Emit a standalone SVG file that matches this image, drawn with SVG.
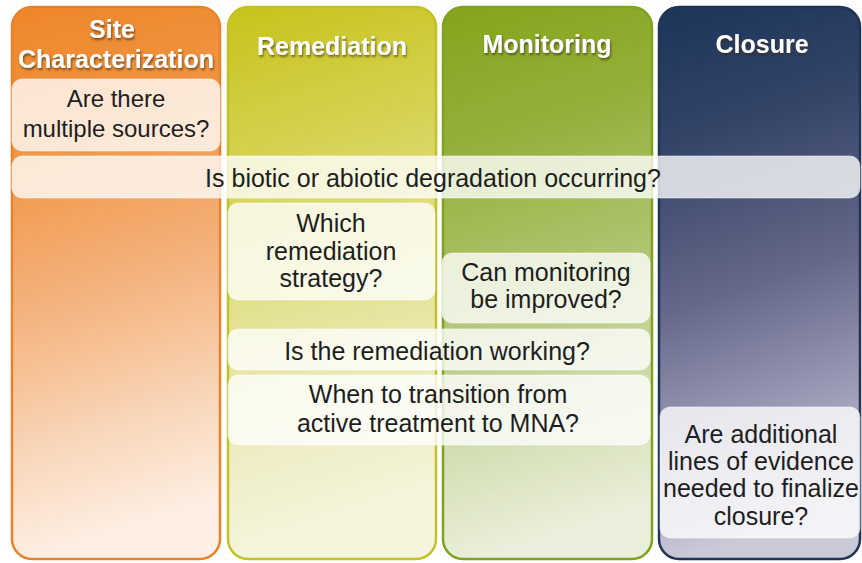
<svg xmlns="http://www.w3.org/2000/svg" width="862" height="563" viewBox="0 0 862 563">
<style>
.hdr{font-family:"Liberation Sans",Arial,sans-serif;font-weight:bold;font-size:25px;fill:#ffffff;text-anchor:middle;filter:url(#sh)}
.txt{font-family:"Liberation Sans",Arial,sans-serif;font-size:25px;fill:#1e1e1e;text-anchor:middle}
.box{fill:#ffffff;fill-opacity:0.78;stroke:#ffffff;stroke-opacity:0.5;stroke-width:1}
.col{stroke-width:2.5}
</style>
<defs>
<filter id="sh" x="-10%" y="-30%" width="120%" height="160%">
<feDropShadow dx="1" dy="2" stdDeviation="1" flood-color="#3a2a10" flood-opacity="0.65"/>
</filter>
<linearGradient id="gOr" x1="0" y1="0" x2="0.12" y2="1">
<stop offset="0" stop-color="#ee862a"/>
<stop offset="0.25" stop-color="#f09442"/>
<stop offset="0.55" stop-color="#f4b27c"/>
<stop offset="0.82" stop-color="#f9d8bc"/>
<stop offset="1" stop-color="#fdefe4"/>
</linearGradient>
<linearGradient id="gYe" x1="0" y1="0" x2="0.12" y2="1">
<stop offset="0" stop-color="#c6c31c"/>
<stop offset="0.25" stop-color="#d3d04a"/>
<stop offset="0.55" stop-color="#e2e18e"/>
<stop offset="0.82" stop-color="#eeedc5"/>
<stop offset="1" stop-color="#f5f5de"/>
</linearGradient>
<linearGradient id="gGr" x1="0" y1="0" x2="0.12" y2="1">
<stop offset="0" stop-color="#84a41c"/>
<stop offset="0.25" stop-color="#92b038"/>
<stop offset="0.55" stop-color="#afc571"/>
<stop offset="0.82" stop-color="#d5e0b6"/>
<stop offset="1" stop-color="#e9efda"/>
</linearGradient>
<linearGradient id="gNv" x1="0" y1="0" x2="0.12" y2="1">
<stop offset="0" stop-color="#1b3559"/>
<stop offset="0.25" stop-color="#334467"/>
<stop offset="0.55" stop-color="#65688a"/>
<stop offset="0.82" stop-color="#a2a2bb"/>
<stop offset="1" stop-color="#c9c9d8"/>
</linearGradient>
</defs>

<g id="col-site">
<rect class="col" x="12" y="7" width="208" height="552" rx="20" fill="url(#gOr)" stroke="#e9832b"/>
<text class="hdr" x="112" y="38">Site</text>
<text class="hdr" x="116" y="68">Characterization</text>
</g>
<g id="col-remediation">
<rect class="col" x="228" y="7" width="208" height="552" rx="20" fill="url(#gYe)" stroke="#c4c126"/>
<text class="hdr" x="332" y="55">Remediation</text>
</g>
<g id="col-monitoring">
<rect class="col" x="443" y="7" width="209" height="552" rx="20" fill="url(#gGr)" stroke="#80a21f"/>
<text class="hdr" x="547" y="53">Monitoring</text>
</g>
<g id="col-closure">
<rect class="col" x="659" y="7" width="201" height="552" rx="20" fill="url(#gNv)" stroke="#1e3556"/>
<text class="hdr" x="762" y="53">Closure</text>
</g>

<g id="q-sources">
<rect class="box" x="12" y="79" width="208" height="72" rx="10"/>
<text class="txt" x="116" y="107" style="font-size:24px">Are there</text>
<text class="txt" x="116" y="137" style="font-size:24px">multiple sources?</text>
</g>
<g id="q-degradation">
<rect class="box" x="12" y="156" width="848" height="42" rx="10"/>
<text class="txt" x="433" y="187">Is biotic or abiotic degradation occurring?</text>
</g>
<g id="q-strategy">
<rect class="box" x="228" y="203" width="207" height="97" rx="10"/>
<text class="txt" x="331" y="232">Which</text>
<text class="txt" x="331" y="260">remediation</text>
<text class="txt" x="331" y="287">strategy?</text>
</g>
<g id="q-monitoring">
<rect class="box" x="442" y="253" width="208" height="70" rx="10"/>
<text class="txt" x="546" y="281">Can monitoring</text>
<text class="txt" x="546" y="308">be improved?</text>
</g>
<g id="q-working">
<rect class="box" x="228" y="329" width="422" height="41" rx="10"/>
<text class="txt" x="437" y="360">Is the remediation working?</text>
</g>
<g id="q-transition">
<rect class="box" x="228" y="375" width="422" height="70" rx="10"/>
<text class="txt" x="438" y="403">When to transition from</text>
<text class="txt" x="438" y="432">active treatment to MNA?</text>
</g>
<g id="q-closure">
<rect class="box" x="660" y="407" width="200" height="131" rx="10"/>
<text class="txt" x="761" y="443">Are additional</text>
<text class="txt" x="761" y="470">lines of evidence</text>
<text class="txt" x="761" y="497">needed to finalize</text>
<text class="txt" x="761" y="525">closure?</text>
</g>
<g id="connectors"></g>
</svg>
